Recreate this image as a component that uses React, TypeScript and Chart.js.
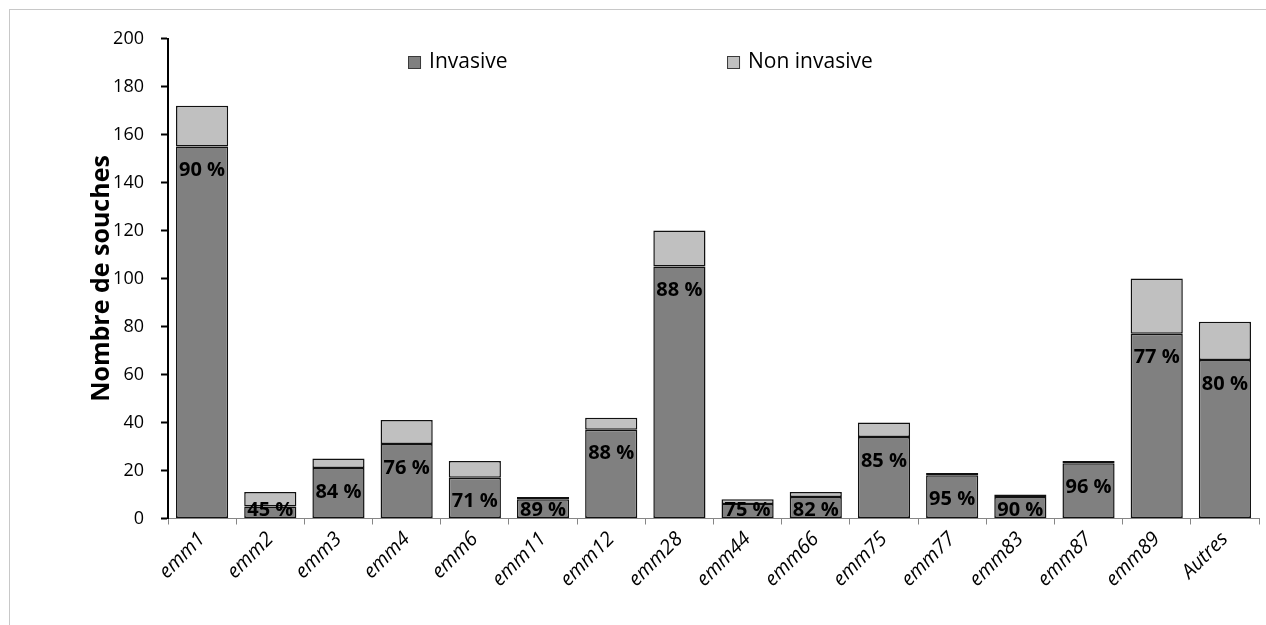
import { useEffect, useRef } from 'react';
import { Chart, registerables } from 'chart.js';

Chart.register(...registerables);

const FONT = "'Open Sans', 'DejaVu Sans', sans-serif";

// emm types and strain counts
const categories = [
  'emm1', 'emm2', 'emm3', 'emm4', 'emm6', 'emm11', 'emm12', 'emm28',
  'emm44', 'emm66', 'emm75', 'emm77', 'emm83', 'emm87', 'emm89', 'Autres',
];
const invasive = [155, 5, 21, 31, 17, 8, 37, 105, 6, 9, 34, 18, 9, 23, 77, 66];
const nonInvasive = [17, 6, 4, 10, 7, 1, 5, 15, 2, 2, 6, 1, 1, 1, 23, 16];

const seriesNames = ['Invasive', 'Non invasive'];
const seriesColors = ['#808080', '#c0c0c0'];

const yMin = 0;
const yMax = 200;
const yStep = 20;

// share of invasive strains written inside the dark segment
const percentLabels = {
  id: 'percentLabels',
  afterDatasetsDraw(chart: any) {
    const meta = chart.getDatasetMeta(0);
    const ctx = chart.ctx;
    ctx.save();
    ctx.font = `bold 20px ${FONT}`;
    ctx.fillStyle = '#000';
    ctx.textAlign = 'center';
    ctx.textBaseline = 'middle';
    meta.data.forEach((bar: any, i: number) => {
      const total = invasive[i] + nonInvasive[i];
      const pct = Math.round((invasive[i] / total) * 100);
      const y = Math.min(bar.y + 24, bar.base - 8);
      ctx.fillText(`${pct} %`, bar.x, y);
    });
    ctx.restore();
  },
};

// legend drawn inside the plot area, near its top
const inlineLegend = {
  id: 'inlineLegend',
  afterDraw(chart: any) {
    const { ctx, chartArea } = chart;
    const w = chartArea.right - chartArea.left;
    const slots = [0.22, 0.5124];
    const y = chartArea.top + 24;
    ctx.save();
    chart.data.datasets.forEach((ds: any, i: number) => {
      const x = chartArea.left + w * slots[i];
      ctx.fillStyle = ds.backgroundColor;
      ctx.fillRect(x, y - 6.5, 13, 13);
      ctx.strokeStyle = '#3a3a3a';
      ctx.lineWidth = 1;
      ctx.strokeRect(x + 0.5, y - 6, 12, 12);
      ctx.fillStyle = '#000';
      ctx.font = `21px ${FONT}`;
      ctx.textAlign = 'left';
      ctx.textBaseline = 'middle';
      ctx.fillText(ds.label, x + 21, y);
    });
    ctx.restore();
  },
};

export default function App() {
  const ref = useRef<HTMLCanvasElement>(null);

  useEffect(() => {
    const chart = new Chart(ref.current as HTMLCanvasElement, {
      type: 'bar',
      data: {
        labels: categories,
        datasets: [
          {
            label: seriesNames[0],
            data: invasive,
            backgroundColor: seriesColors[0],
            borderColor: '#111',
            borderWidth: 1.5,
            borderSkipped: false,
            barPercentage: 0.765,
            categoryPercentage: 1,
          },
          {
            label: seriesNames[1],
            data: nonInvasive,
            backgroundColor: seriesColors[1],
            borderColor: '#111',
            borderWidth: 1.5,
            borderSkipped: false,
            barPercentage: 0.765,
            categoryPercentage: 1,
          },
        ],
      },
      options: {
        animation: false,
        responsive: false,
        layout: { padding: { left: 0, top: 38.5, right: 7, bottom: 0 } },
        plugins: {
          legend: { display: false },
          tooltip: { enabled: false },
        },
        scales: {
          x: {
            stacked: true,
            grid: {
              drawOnChartArea: false,
              offset: true,
              tickLength: 6,
              tickColor: '#868686',
              tickWidth: 1,
              color: '#868686',
            },
            border: { color: '#868686', width: 1 },
            ticks: {
              minRotation: 45,
              maxRotation: 45,
              color: '#000',
              padding: 3,
              font: { family: FONT, size: 20, style: 'italic' },
            },
            afterFit: (s: any) => {
              s.height = 106.5;
            },
          },
          y: {
            stacked: true,
            min: yMin,
            max: yMax,
            ticks: {
              stepSize: yStep,
              color: '#000',
              padding: 17,
              font: { family: FONT, size: 18 },
            },
            grid: {
              drawOnChartArea: false,
              tickLength: 7,
              tickColor: '#000',
              tickWidth: 2,
              color: '#000',
            },
            border: { color: '#000', width: 2 },
            title: {
              display: true,
              text: 'Nombre de souches',
              color: '#000',
              font: { family: FONT, size: 25, weight: 'bold' },
              padding: { top: 87, bottom: 0 },
            },
            afterFit: (s: any) => {
              s.width = 168;
            },
          },
        },
      },
      plugins: [percentLabels, inlineLegend],
    });
    return () => chart.destroy();
  }, []);

  return (
    <div
      style={{
        position: 'fixed',
        left: 0,
        top: 0,
        width: 1266,
        height: 625,
        overflow: 'hidden',
        background: '#fff',
      }}
    >
      <div
        style={{
          position: 'absolute',
          left: 9,
          top: 9,
          width: 2000,
          height: 2000,
          borderLeft: '1px solid #c8c8c8',
          borderTop: '1px solid #c8c8c8',
        }}
      />
      <canvas
        ref={ref}
        width={1266}
        height={625}
        style={{ position: 'absolute', left: 0, top: 0 }}
      />
    </div>
  );
}
